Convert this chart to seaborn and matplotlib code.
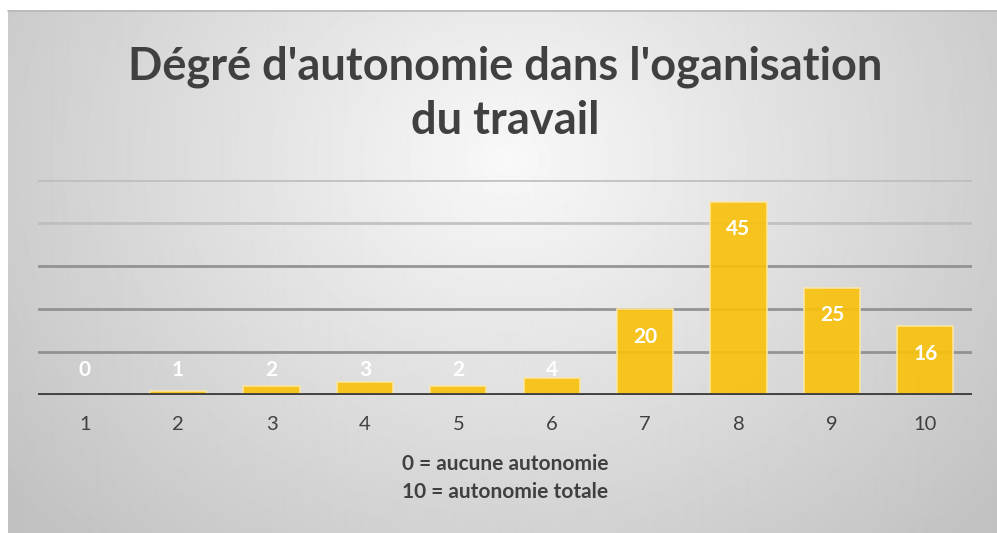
import numpy as np
import pandas as pd
import matplotlib
matplotlib.use('Agg')
import matplotlib.pyplot as plt
import seaborn as sns

# data
categories = ['1', '2', '3', '4', '5', '6', '7', '8', '9', '10']
values = [0, 1, 2, 3, 2, 4, 20, 45, 25, 16]

title = "Dégré d'autonomie dans l'oganisation\ndu travail"
note = "0 = aucune autonomie\n10 = autonomie totale"

sns.set_style('white')
plt.rcParams['font.family'] = ['Lato', 'DejaVu Sans']

W, H = 997, 533
fig = plt.figure(figsize=(W / 100, H / 100), dpi=100)
fig.patch.set_facecolor('white')

# radial gray background of the chart area
bg = fig.add_axes([8 / W, 0, 1 - 8 / W, 1 - 10 / H])
yy, xx = np.mgrid[0:523, 0:989]
d = np.sqrt(((xx - 500) / 620.0) ** 2 + ((yy - 150) / 520.0) ** 2)
shade = np.clip(0.975 - 0.21 * d, 0.76, 0.975)
bg.imshow(shade, cmap='gray', vmin=0, vmax=1, aspect='auto', interpolation='bilinear')
bg.set_axis_off()
fig.add_artist(plt.Line2D([8 / W, 1], [1 - 10.5 / H, 1 - 10.5 / H], color='#b8b8b8', lw=1.2))

df = pd.DataFrame({'niveau': categories, 'nombre': values})

ax = fig.add_axes([38 / W, 1 - 395 / H, (972 - 38) / W, (395 - 180) / H])
ax.patch.set_alpha(0)
for g in [10, 20, 30, 40, 50]:
    ax.axhline(g, color='#8c8c8c' if g <= 30 else '#bdbdbd', lw=2, alpha=0.9, zorder=0)

sns.barplot(data=df, x='niveau', y='nombre', order=categories, color='#f9c20e',
            width=0.6, edgecolor='#fbe7a6', linewidth=1.2, saturation=1, alpha=0.92, ax=ax, zorder=2)
ax.axhline(0, color='#404040', lw=3.5, zorder=3)

for i, v in enumerate(values):
    ax.text(i, max(v - 6.4, 5.8), str(v), ha='center', va='center', color='white',
            fontsize=15, fontweight='bold', zorder=4)

ax.set_ylim(0, 50)
ax.set_xlim(-0.5, len(categories) - 0.5)
ax.set_yticks([])
ax.set_xlabel('')
ax.set_ylabel('')
ax.tick_params(axis='x', length=0, pad=15, labelsize=14.5, labelcolor='#404040')
sns.despine(ax=ax, left=True, bottom=True)

fig.text(0.507, 1 - 94 / H, title, ha='center', va='center', fontsize=32.5,
         fontweight='bold', color='#404040', linespacing=1.36)
fig.text(0.507, 1 - 478 / H, note, ha='center', va='center', fontsize=15,
         fontweight='bold', color='#404040', linespacing=1.5)

fig.savefig('out.png', dpi=100)
